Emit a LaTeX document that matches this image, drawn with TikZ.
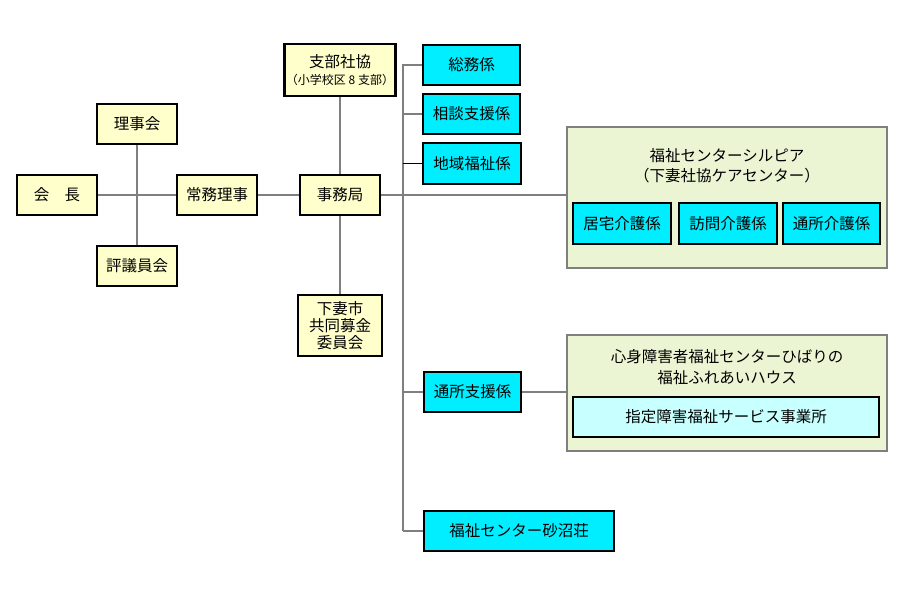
\documentclass[tikz,border=0pt]{standalone}
\usepackage{fontspec}
\setmainfont{Noto Sans CJK JP}
\definecolor{ybox}{HTML}{FFFFCC}
\definecolor{cbox}{HTML}{00EEFF}
\definecolor{lcbox}{HTML}{C8FFFF}
\definecolor{gbox}{HTML}{EBF5D3}
\definecolor{gline}{HTML}{7F7F7F}
\begin{document}
\begin{tikzpicture}[x=1pt,y=-1pt,
  base/.style={draw=black,line width=2.2pt,inner sep=0pt,align=center,
    font=\fontsize{15.5}{17}\selectfont},
  yb/.style={base,fill=ybox},
  cb/.style={base,fill=cbox},
  lcb/.style={base,fill=lcbox},
  gb/.style={draw=gline,line width=1.6pt,fill=gbox,inner sep=0pt},
  ttl/.style={align=center,inner sep=0pt,font=\fontsize{15.5}{20.5}\selectfont},
  conn/.style={draw=gline,line width=2pt},
  thin/.style={draw=black,line width=1.1pt}]
\useasboundingbox (0,0) rectangle (900,600);
% left part
\node[yb,minimum width=80pt,minimum height=40pt] (kaicho) at (57,195) {会　長};
\node[yb,minimum width=80pt,minimum height=40pt] (riji) at (137,124) {理事会};
\node[yb,minimum width=80pt,minimum height=40pt] (hyogi) at (137,266) {評議員会};
\node[yb,minimum width=80pt,minimum height=40pt] (jomu) at (217,195) {常務理事};
\node[yb,minimum width=80pt,minimum height=40pt] (jimu) at (340,195) {事務局};
\node[yb,minimum width=111pt,minimum height=52pt,
  font=\fontsize{15.5}{20}\selectfont] (shibu) at (340,70)
  {支部社協\\[-3pt]{\fontsize{12}{13}\selectfont （小学校区 8 支部）}};
\node[yb,minimum width=84pt,minimum height=61pt] (kyodo) at (340,325.5)
  {下妻市\\共同募金\\委員会};
% sections
\node[cb,minimum width=97pt,minimum height=40pt] (somu) at (471.5,65) {総務係};
\node[cb,minimum width=97pt,minimum height=40pt] (sodan) at (471.5,114) {相談支援係};
\node[cb,minimum width=98pt,minimum height=41pt] (chiiki) at (472,163.5) {地域福祉係};
\node[cb,minimum width=97pt,minimum height=40pt] (tsushien) at (472.5,392) {通所支援係};
\node[cb,minimum width=190pt,minimum height=40pt] (sanuma) at (519,531) {福祉センター砂沼荘};
% green box 1
\node[gb,minimum width=320pt,minimum height=141pt] (g1) at (727,197.5) {};
\node[ttl] (g1t) at (727,165.5) {福祉センターシルピア\\（下妻社協ケアセンター）};
\node[cb,minimum width=98pt,minimum height=41pt] (kyotaku) at (622,223.5) {居宅介護係};
\node[cb,minimum width=98pt,minimum height=41pt] (homon) at (728,223.5) {訪問介護係};
\node[cb,minimum width=97pt,minimum height=41pt] (tsukaigo) at (831.5,223.5) {通所介護係};
% green box 2
\node[gb,minimum width=320pt,minimum height=116pt] (g2) at (727,393) {};
\node[ttl] (g2t) at (727,367) {心身障害者福祉センターひばりの\\福祉ふれあいハウス};
\node[lcb,minimum width=306pt,minimum height=40pt] (shitei) at (726,417) {指定障害福祉サービス事業所};
% connectors
\coordinate (spine) at (403,531);
\draw[conn] (kaicho.east) -- (jomu.west);
\draw[conn] (riji.south) -- (hyogi.north);
\draw[conn] (jomu.east) -- (jimu.west);
\draw[conn] (shibu.south) -- (jimu.north);
\draw[conn] (jimu.south) -- (kyodo.north);
\draw[conn] (somu.west) -| (spine);
\draw[conn] (sodan.west) -- (sodan.west -| spine);
\draw[thin] (chiiki.west) -- (chiiki.west -| spine);
\draw[conn] (jimu.east) -- (jimu.east -| g1.west);
\draw[conn] (tsushien.west) -- (tsushien.west -| spine);
\draw[conn] (tsushien.east) -- (tsushien.east -| g2.west);
\draw[conn] (sanuma.west) -- (spine);
\end{tikzpicture}
\end{document}
